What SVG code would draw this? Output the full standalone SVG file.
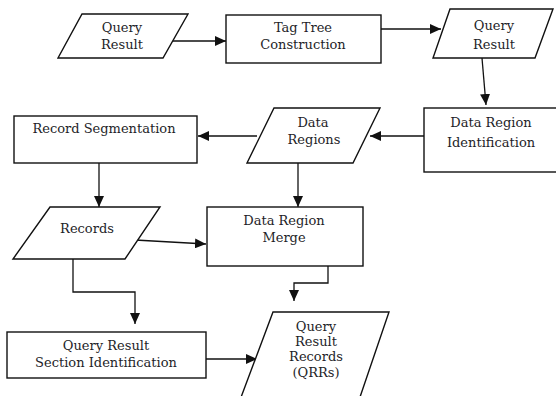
<svg xmlns="http://www.w3.org/2000/svg" width="556" height="396" viewBox="0 0 556 396">
<style>
.s{fill:#fff;stroke:#111;stroke-width:1.4}
.c{fill:none;stroke:#111;stroke-width:1.3}
text{font-family:"DejaVu Serif","Liberation Serif",serif;font-size:13px;fill:#1e1e28;text-anchor:middle}
</style>
<defs>
<marker id="a" markerUnits="userSpaceOnUse" markerWidth="12" markerHeight="10" refX="11" refY="5" orient="auto">
<path d="M0,0 L11,5 L0,10 Z" fill="#111"/>
</marker>
</defs>
<rect width="556" height="396" fill="#fff"/>
<g id="connectors">
<line class="c" x1="170" y1="41" x2="226" y2="41" marker-end="url(#a)"/>
<line class="c" x1="381" y1="29" x2="441" y2="29" marker-end="url(#a)"/>
<line class="c" x1="482" y1="58" x2="486" y2="105" marker-end="url(#a)"/>
<line class="c" x1="424" y1="136" x2="370" y2="136" marker-end="url(#a)"/>
<line class="c" x1="257" y1="136" x2="198" y2="136" marker-end="url(#a)"/>
<line class="c" x1="99" y1="163" x2="99" y2="207" marker-end="url(#a)"/>
<line class="c" x1="298" y1="163" x2="298" y2="207" marker-end="url(#a)"/>
<line class="c" x1="135" y1="240" x2="206" y2="244" marker-end="url(#a)"/>
<polyline class="c" points="328,266 328,283 294,283 294,301" marker-end="url(#a)"/>
<polyline class="c" points="73,259 73,292 135,292 135,324" marker-end="url(#a)"/>
<line class="c" x1="206" y1="359" x2="257" y2="359" marker-end="url(#a)"/>
</g>
<g id="qr1">
<polygon class="s" points="82,14 188,14 163,58 58,58"/>
<text x="122" y="32">Query</text>
<text x="122" y="49">Result</text>
</g>
<g id="tagtree">
<rect class="s" x="226" y="15" width="155" height="48"/>
<text x="303" y="32">Tag Tree</text>
<text x="303" y="49">Construction</text>
</g>
<g id="qr2">
<polygon class="s" points="450,9 553,9 535,58 433,58"/>
<text x="494" y="30">Query</text>
<text x="494" y="49">Result</text>
</g>
<g id="dri">
<rect class="s" x="424" y="108" width="140" height="64"/>
<text x="491" y="127">Data Region</text>
<text x="491" y="147">Identification</text>
</g>
<g id="dataregions">
<polygon class="s" points="274,108 380,108 353,163 247,163"/>
<text x="313" y="127">Data</text>
<text x="314" y="144">Regions</text>
</g>
<g id="recseg">
<rect class="s" x="14" y="116" width="183" height="47"/>
<text x="104" y="133">Record Segmentation</text>
</g>
<g id="records">
<polygon class="s" points="50,207 160,207 125,259 13,259"/>
<text x="87" y="233">Records</text>
</g>
<g id="merge">
<rect class="s" x="207" y="207" width="156" height="59"/>
<text x="284" y="225">Data Region</text>
<text x="284" y="242">Merge</text>
</g>
<g id="qrsi">
<rect class="s" x="7" y="332" width="199" height="46"/>
<text x="106" y="350">Query Result</text>
<text x="106" y="367">Section Identification</text>
</g>
<g id="qrr">
<polygon class="s" points="273,312 389,312 359,400 240,400"/>
<text x="316" y="331">Query</text>
<text x="316" y="346">Result</text>
<text x="316" y="361">Records</text>
<text x="316" y="377">(QRRs)</text>
</g>
</svg>
